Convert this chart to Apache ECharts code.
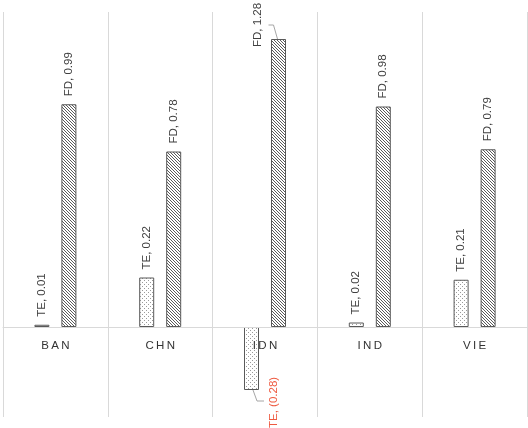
<!DOCTYPE html>
<html><head><meta charset="utf-8">
<script src="https://cdn.jsdelivr.net/npm/echarts@6/dist/echarts.min.js"></script>
<style>html,body{margin:0;padding:0;background:#fff}#c{width:528px;height:428px}</style>
</head><body><div id="c"></div>
<script>
const categories = ['BAN', 'CHN', 'IDN', 'IND', 'VIE'];
const teValues = [0.01, 0.22, -0.28, 0.02, 0.21];
const fdValues = [0.99, 0.78, 1.28, 0.98, 0.79];
const seriesNames = ['TE', 'FD'];
const yMin = -0.4, yMax = 1.4;

function makePattern(kind) {
  const c = document.createElement('canvas');
  const ctx = c.getContext('2d');
  if (kind === 'hatch') {
    c.width = 3; c.height = 3;
    ctx.fillStyle = '#ffffff'; ctx.fillRect(0, 0, 3, 3);
    ctx.fillStyle = '#5a5a5a';
    for (let i = 0; i < 3; i++) ctx.fillRect(i, i, 1, 1);
  } else {
    c.width = 4; c.height = 4;
    ctx.fillStyle = '#ffffff'; ctx.fillRect(0, 0, 4, 4);
    ctx.fillStyle = '#9a9a9a';
    ctx.fillRect(0, 0, 1, 1); ctx.fillRect(2, 2, 1, 1);
  }
  return { image: c, repeat: 'repeat' };
}

const fmtVal = v => v < 0 ? '(' + Math.abs(v).toFixed(2) + ')' : v.toFixed(2);
const FONT = 'Liberation Sans';
const fdMax = Math.max(...fdValues);
const teNegIdx = teValues.findIndex(v => v < 0);
const fdMaxIdx = fdValues.indexOf(fdMax);

const teData = teValues.map(v => {
  const item = { value: v };
  if (v < 0) item.label = { color: '#ee5a40' };
  return item;
});

const baseLabel = {
  show: true,
  position: 'top',
  rotate: 90,
  align: 'left',
  verticalAlign: 'middle',
  distance: 8,
  fontFamily: FONT,
  fontSize: 11.5,
  color: '#404040',
  formatter: p => p.seriesName + ', ' + fmtVal(p.value)
};

const W = 528, H = 428;
const gridTop = 12, gridBottom = 11;
const gridH = H - gridTop - gridBottom;
const zeroOffset = gridH * (0 - yMin) / (yMax - yMin);
const BAR_W = 15, BAR_GAP = 12;
const barShift = (BAR_W + BAR_GAP) / 2;

const chart = echarts.init(document.getElementById('c'), null, { renderer: 'canvas' });
chart.setOption({
  animation: false,
  backgroundColor: '#ffffff',
  grid: { left: 3, right: 1, top: gridTop, bottom: gridBottom, containLabel: false, outerBoundsMode: 'none' },
  xAxis: [{
    type: 'category',
    data: categories,
    z: 5,
    axisLine: { show: true, onZero: true, lineStyle: { color: '#d9d9d9', width: 1 } },
    axisTick: { show: false },
    splitLine: { show: true, lineStyle: { color: '#d9d9d9', width: 1 } },
    axisLabel: { show: false }
  }, {
    type: 'category',
    data: categories,
    position: 'bottom',
    offset: -zeroOffset,
    z: 6,
    axisLine: { show: false, onZero: false },
    axisTick: { show: false },
    splitLine: { show: false },
    axisLabel: {
      fontFamily: FONT, fontSize: 11.5, color: '#333333', margin: 13,
      formatter: s => s.split('').join('\u2009')
    }
  }],
  yAxis: {
    type: 'value', min: yMin, max: yMax, show: false,
    splitLine: { show: false }
  },
  series: [
    {
      name: seriesNames[0], type: 'bar', barWidth: BAR_W, barGap: (BAR_GAP / BAR_W * 100) + '%',
      data: teData,
      itemStyle: { color: makePattern('dots'), borderColor: '#595959', borderWidth: 1 },
      label: Object.assign({}, baseLabel),
      labelLayout: p => {
        if (p.dataIndex === teNegIdx) {
          const r = p.rect;
          return { x: r.x + r.width + 15, y: r.y + r.height + 38 };
        }
      }
    },
    {
      name: seriesNames[1], type: 'bar', barWidth: BAR_W, barGap: (BAR_GAP / BAR_W * 100) + '%',
      data: fdValues,
      itemStyle: { color: makePattern('hatch'), borderColor: '#595959', borderWidth: 1 },
      label: Object.assign({}, baseLabel),
      labelLayout: p => {
        if (p.dataIndex === fdMaxIdx) {
          const r = p.rect;
          return { x: r.x - 13, y: r.y + 8 };
        }
      }
    }
  ]
});

// leader lines for the two moved labels, positioned through the chart's own scales
const guides = [];
if (fdMaxIdx >= 0) {
  const pt = chart.convertToPixel({ xAxisIndex: 0, yAxisIndex: 0 }, [fdMaxIdx, fdValues[fdMaxIdx]]);
  const cx = pt[0] + barShift, top = pt[1];
  guides.push([[cx - 1, top], [cx - 5, top - 14], [cx - 10, top - 14]]);
}
if (teNegIdx >= 0) {
  const pt = chart.convertToPixel({ xAxisIndex: 0, yAxisIndex: 0 }, [teNegIdx, teValues[teNegIdx]]);
  const cx = pt[0] - barShift, bot = pt[1];
  guides.push([[cx + 1.5, bot], [cx + 5.5, bot + 11], [cx + 12.5, bot + 11]]);
}
chart.setOption({
  graphic: guides.map(points => ({
    type: 'polyline', z: 10, silent: true,
    shape: { points },
    style: { stroke: '#a6a6a6', lineWidth: 1, fill: null }
  }))
});
</script>
</body></html>
